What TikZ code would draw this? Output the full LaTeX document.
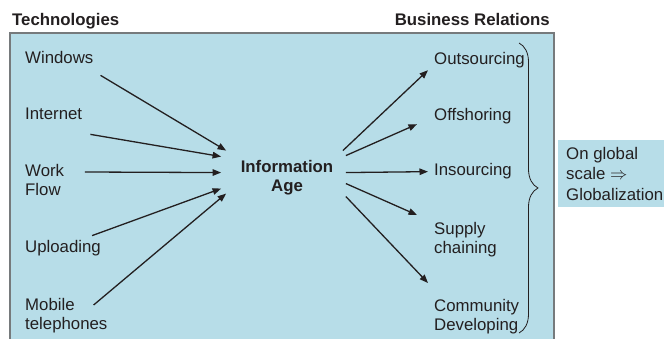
\documentclass[tikz,border=0pt]{standalone}
\usepackage{fontspec}
\setmainfont{Liberation Sans}
\usetikzlibrary{arrows.meta,decorations.pathreplacing}

\definecolor{paleblue}{RGB}{183,221,232}
\definecolor{edgegray}{RGB}{118,122,124}
\definecolor{ink}{RGB}{35,31,32}

\begin{document}
\begin{tikzpicture}[x=1pt,y=-1pt,
		every node/.style={font=\fontsize{16.8}{19}\selectfont, inner sep=0pt, text=ink},
		item/.style={align=left},
		title/.style={font=\fontsize{16.8}{19}\selectfont\bfseries},
		link/.style={-{Triangle[length=8.5pt,width=6.5pt]}, line width=1.3pt, ink}]
		\useasboundingbox (0,0) rectangle (664,339);
		% panels
		\fill[paleblue] (10,33) rectangle (554,340);
		\draw[edgegray, line width=1.2pt] (10,340) -- (10,33) -- (554,33) -- (554,340);
		\fill[paleblue] (558,140) rectangle (664,207);
		% headings
		\node[title, anchor=base west] (tech) at (12,26) {Technologies};
		\node[title, anchor=base east] (biz) at (550,26) {Business Relations};
		% technologies
		\node[item, anchor=base west] (win) at (25,64) {Windows};
		\node[item, anchor=base west] (net) at (25,120) {Internet};
		\node[item, anchor=north west] (work) at (25,164) {Work\\Flow};
		\node[item, anchor=base west] (up) at (25,253) {Uploading};
		\node[item, anchor=north west] (mob) at (25,298) {Mobile\\telephones};
		% hub
		\node[title, align=center, anchor=north] (info) at (287,160) {Information\\Age};
		% relations
		\node[item, anchor=base west] (out) at (434,65) {Outsourcing};
		\node[item, anchor=base west] (off) at (434,121) {Offshoring};
		\node[item, anchor=base west] (ins) at (434,176) {Insourcing};
		\node[item, anchor=north west] (sup) at (434,222) {Supply\\chaining};
		\node[item, anchor=north west] (com) at (434,299) {Community\\Developing};
		\node[item, anchor=north west, font=\fontsize{16.8}{20.5}\selectfont] (glob) at (566,147) {On global\\scale $\Rightarrow$\\Globalization};
		% arrows in
		\draw[link] ([shift={(7,11)}]win.south east) -- ([shift={(-14.5,-27)}]info.west);
		\draw[link] ([shift={(8,14)}]net.south east) -- ([shift={(-19.5,-21)}]info.west);
		\draw[link] ([shift={(20.5,8)}]work.north east) -- ([shift={(-19.5,-5)}]info.west);
		\draw[link] ([shift={(-9,-5)}]up.north east) -- ([shift={(-19.5,11)}]info.west);
		\draw[link] ([shift={(-14,7)}]mob.north east) -- ([shift={(-14.5,16)}]info.west);
		% arrows out
		\draw[link] ([shift={(9.5,-27)}]info.east) -- ([shift={(-6,1.5)}]out.south west);
		\draw[link] ([shift={(12.5,-22)}]info.east) -- ([shift={(-17,-0.5)}]off.south west);
		\draw[link] ([shift={(12.5,-5)}]info.east) -- ([shift={(-6,0)}]ins.west);
		\draw[link] ([shift={(12.5,6)}]info.east) -- ([shift={(-17,-7)}]sup.north west);
		\draw[link] ([shift={(12.5,19)}]info.east) -- ([shift={(-6,-16)}]com.north west);
		% brace
		\draw[ink, line width=0.8pt, decorate, decoration={brace, amplitude=19pt}] (519,43) -- (519,333);
	\end{tikzpicture}
\end{document}
